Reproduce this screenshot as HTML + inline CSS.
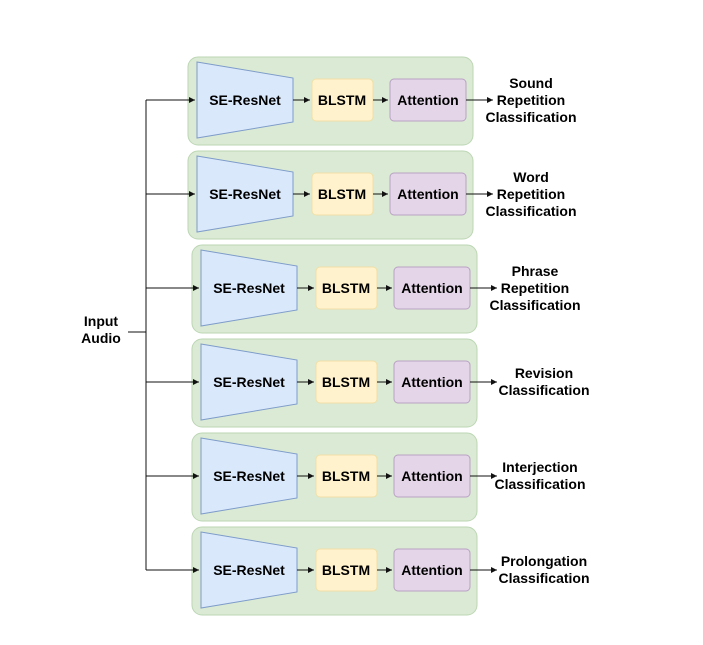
<!DOCTYPE html><html><head><style>body{margin:0;background:#fff}</style></head><body>
<svg width="703" height="640" xmlns="http://www.w3.org/2000/svg" font-family="Liberation Sans, sans-serif" font-weight="bold" font-size="14">
<defs><marker id="a" markerWidth="8" markerHeight="8" refX="6" refY="3" orient="auto"><path d="M0,0L6,3L0,6z" fill="#111"/></marker></defs>
<line x1="146" y1="100" x2="146" y2="570" stroke="#111"/>
<line x1="128" y1="332" x2="146" y2="332" stroke="#111"/>
<text x="101" y="326" text-anchor="middle">Input</text>
<text x="101" y="343" text-anchor="middle">Audio</text>
<g transform="translate(0,0)">
<rect x="188" y="57" width="285" height="88" rx="10" fill="#dbead4" stroke="#bcd6b3"/>
<line x1="146" y1="100" x2="195" y2="100" stroke="#111" marker-end="url(#a)"/>
<path d="M197,62L293,78L293,122L197,138z" fill="#dae8fc" stroke="#7e9cc9"/>
<text x="245" y="105" text-anchor="middle">SE-ResNet</text>
<line x1="293" y1="100" x2="310" y2="100" stroke="#111" marker-end="url(#a)"/>
<rect x="312" y="79" width="61" height="42" rx="4" fill="#fff2cc" stroke="#f0dfa8"/>
<text x="342" y="105" text-anchor="middle">BLSTM</text>
<line x1="373" y1="100" x2="388" y2="100" stroke="#111" marker-end="url(#a)"/>
<rect x="390" y="79" width="76" height="42" rx="4" fill="#e4d6e8" stroke="#b8a1c4"/>
<text x="428" y="105" text-anchor="middle">Attention</text>
<line x1="466" y1="100" x2="493" y2="100" stroke="#111" marker-end="url(#a)"/>
<text x="531" y="88" text-anchor="middle">Sound</text>
<text x="531" y="105" text-anchor="middle">Repetition</text>
<text x="531" y="122" text-anchor="middle">Classification</text>
</g>
<g transform="translate(0,94)">
<rect x="188" y="57" width="285" height="88" rx="10" fill="#dbead4" stroke="#bcd6b3"/>
<line x1="146" y1="100" x2="195" y2="100" stroke="#111" marker-end="url(#a)"/>
<path d="M197,62L293,78L293,122L197,138z" fill="#dae8fc" stroke="#7e9cc9"/>
<text x="245" y="105" text-anchor="middle">SE-ResNet</text>
<line x1="293" y1="100" x2="310" y2="100" stroke="#111" marker-end="url(#a)"/>
<rect x="312" y="79" width="61" height="42" rx="4" fill="#fff2cc" stroke="#f0dfa8"/>
<text x="342" y="105" text-anchor="middle">BLSTM</text>
<line x1="373" y1="100" x2="388" y2="100" stroke="#111" marker-end="url(#a)"/>
<rect x="390" y="79" width="76" height="42" rx="4" fill="#e4d6e8" stroke="#b8a1c4"/>
<text x="428" y="105" text-anchor="middle">Attention</text>
<line x1="466" y1="100" x2="493" y2="100" stroke="#111" marker-end="url(#a)"/>
<text x="531" y="88" text-anchor="middle">Word</text>
<text x="531" y="105" text-anchor="middle">Repetition</text>
<text x="531" y="122" text-anchor="middle">Classification</text>
</g>
<g transform="translate(4,188)">
<rect x="188" y="57" width="285" height="88" rx="10" fill="#dbead4" stroke="#bcd6b3"/>
<path d="M197,62L293,78L293,122L197,138z" fill="#dae8fc" stroke="#7e9cc9"/>
<text x="245" y="105" text-anchor="middle">SE-ResNet</text>
<line x1="293" y1="100" x2="310" y2="100" stroke="#111" marker-end="url(#a)"/>
<rect x="312" y="79" width="61" height="42" rx="4" fill="#fff2cc" stroke="#f0dfa8"/>
<text x="342" y="105" text-anchor="middle">BLSTM</text>
<line x1="373" y1="100" x2="388" y2="100" stroke="#111" marker-end="url(#a)"/>
<rect x="390" y="79" width="76" height="42" rx="4" fill="#e4d6e8" stroke="#b8a1c4"/>
<text x="428" y="105" text-anchor="middle">Attention</text>
<line x1="466" y1="100" x2="493" y2="100" stroke="#111" marker-end="url(#a)"/>
<text x="531" y="88" text-anchor="middle">Phrase</text>
<text x="531" y="105" text-anchor="middle">Repetition</text>
<text x="531" y="122" text-anchor="middle">Classification</text>
</g>
<g transform="translate(4,282)">
<rect x="188" y="57" width="285" height="88" rx="10" fill="#dbead4" stroke="#bcd6b3"/>
<path d="M197,62L293,78L293,122L197,138z" fill="#dae8fc" stroke="#7e9cc9"/>
<text x="245" y="105" text-anchor="middle">SE-ResNet</text>
<line x1="293" y1="100" x2="310" y2="100" stroke="#111" marker-end="url(#a)"/>
<rect x="312" y="79" width="61" height="42" rx="4" fill="#fff2cc" stroke="#f0dfa8"/>
<text x="342" y="105" text-anchor="middle">BLSTM</text>
<line x1="373" y1="100" x2="388" y2="100" stroke="#111" marker-end="url(#a)"/>
<rect x="390" y="79" width="76" height="42" rx="4" fill="#e4d6e8" stroke="#b8a1c4"/>
<text x="428" y="105" text-anchor="middle">Attention</text>
<line x1="466" y1="100" x2="493" y2="100" stroke="#111" marker-end="url(#a)"/>
<text x="540" y="96" text-anchor="middle">Revision</text>
<text x="540" y="113" text-anchor="middle">Classification</text>
</g>
<g transform="translate(4,376)">
<rect x="188" y="57" width="285" height="88" rx="10" fill="#dbead4" stroke="#bcd6b3"/>
<path d="M197,62L293,78L293,122L197,138z" fill="#dae8fc" stroke="#7e9cc9"/>
<text x="245" y="105" text-anchor="middle">SE-ResNet</text>
<line x1="293" y1="100" x2="310" y2="100" stroke="#111" marker-end="url(#a)"/>
<rect x="312" y="79" width="61" height="42" rx="4" fill="#fff2cc" stroke="#f0dfa8"/>
<text x="342" y="105" text-anchor="middle">BLSTM</text>
<line x1="373" y1="100" x2="388" y2="100" stroke="#111" marker-end="url(#a)"/>
<rect x="390" y="79" width="76" height="42" rx="4" fill="#e4d6e8" stroke="#b8a1c4"/>
<text x="428" y="105" text-anchor="middle">Attention</text>
<line x1="466" y1="100" x2="493" y2="100" stroke="#111" marker-end="url(#a)"/>
<text x="536" y="96" text-anchor="middle">Interjection</text>
<text x="536" y="113" text-anchor="middle">Classification</text>
</g>
<g transform="translate(4,470)">
<rect x="188" y="57" width="285" height="88" rx="10" fill="#dbead4" stroke="#bcd6b3"/>
<path d="M197,62L293,78L293,122L197,138z" fill="#dae8fc" stroke="#7e9cc9"/>
<text x="245" y="105" text-anchor="middle">SE-ResNet</text>
<line x1="293" y1="100" x2="310" y2="100" stroke="#111" marker-end="url(#a)"/>
<rect x="312" y="79" width="61" height="42" rx="4" fill="#fff2cc" stroke="#f0dfa8"/>
<text x="342" y="105" text-anchor="middle">BLSTM</text>
<line x1="373" y1="100" x2="388" y2="100" stroke="#111" marker-end="url(#a)"/>
<rect x="390" y="79" width="76" height="42" rx="4" fill="#e4d6e8" stroke="#b8a1c4"/>
<text x="428" y="105" text-anchor="middle">Attention</text>
<line x1="466" y1="100" x2="493" y2="100" stroke="#111" marker-end="url(#a)"/>
<text x="540" y="96" text-anchor="middle">Prolongation</text>
<text x="540" y="113" text-anchor="middle">Classification</text>
</g>
<line x1="146" y1="288" x2="199" y2="288" stroke="#111" marker-end="url(#a)"/>
<line x1="146" y1="382" x2="199" y2="382" stroke="#111" marker-end="url(#a)"/>
<line x1="146" y1="476" x2="199" y2="476" stroke="#111" marker-end="url(#a)"/>
<line x1="146" y1="570" x2="199" y2="570" stroke="#111" marker-end="url(#a)"/>
</svg>
</body></html>
